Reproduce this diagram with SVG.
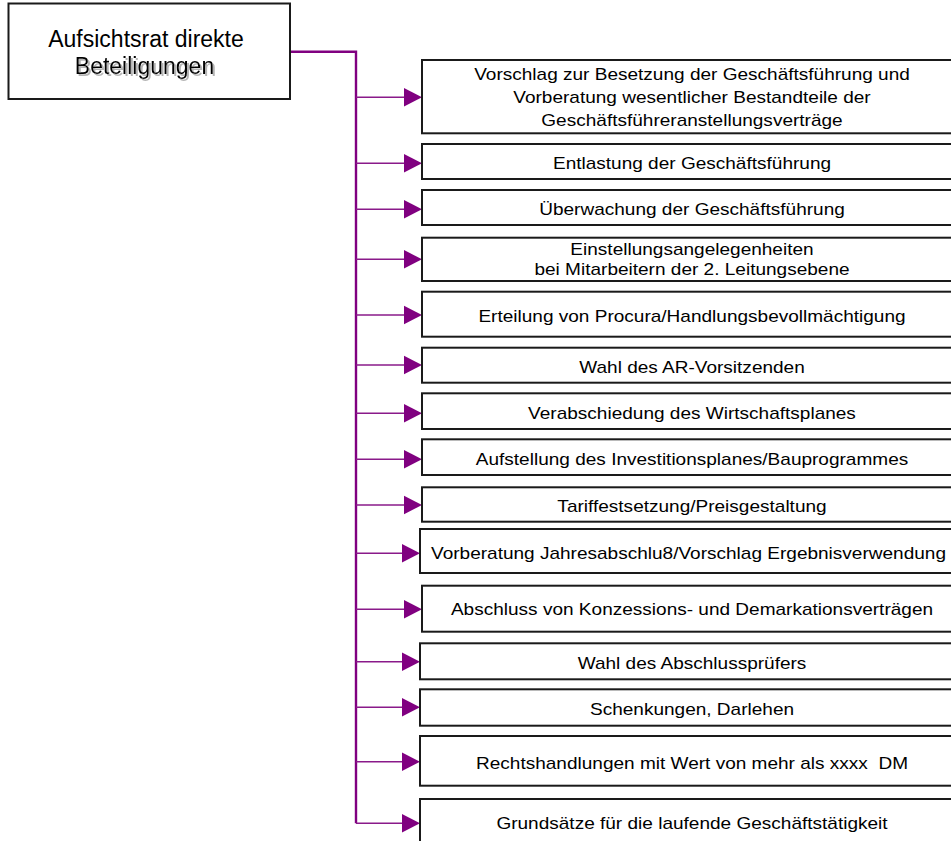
<svg xmlns="http://www.w3.org/2000/svg" width="951" height="841" viewBox="0 0 951 841">
  <style>
    .box { fill: #ffffff; stroke: #1a1a1a; stroke-width: 2; }
    .lbl { font-family: "Liberation Sans", Arial, sans-serif; font-size: 17px; fill: #000; text-anchor: middle; white-space: pre; }
    .head { font-family: "Liberation Sans", Arial, sans-serif; font-size: 23px; fill: #000; text-anchor: middle; }
    .trunk { fill: none; stroke: #800080; stroke-width: 2.4; }
    .branch { fill: none; stroke: #8a1a8a; stroke-width: 1.6; marker-end: url(#ah); }
  </style>
  <defs>
    <marker id="ah" markerUnits="userSpaceOnUse" markerWidth="18" markerHeight="19" refX="10" refY="9.25" orient="auto" overflow="visible">
      <path d="M0,0 L18,9.25 L0,18.5 Z" fill="#800080"/>
    </marker>
    <!-- soft grey offset copy behind the second title line -->
    <filter id="drop" x="-5%" y="-20%" width="115%" height="160%">
      <feOffset in="SourceAlpha" dx="2" dy="2" result="off"/>
      <feFlood flood-color="#b4b4b4"/>
      <feComposite in2="off" operator="in" result="shade"/>
      <feMerge>
        <feMergeNode in="shade"/>
        <feMergeNode in="SourceGraphic"/>
      </feMerge>
    </filter>
  </defs>
  <rect width="951" height="841" fill="#ffffff"/>

  <!-- connectors -->
  <g id="connectors">
    <polyline class="trunk" points="290,51.7 356,51.7 356,823.3"/>
    <line class="branch" x1="356" y1="97.3" x2="414" y2="97.3"/>
    <line class="branch" x1="356" y1="163.3" x2="414" y2="163.3"/>
    <line class="branch" x1="356" y1="209.3" x2="414" y2="209.3"/>
    <line class="branch" x1="356" y1="259.3" x2="414" y2="259.3"/>
    <line class="branch" x1="356" y1="315" x2="414" y2="315"/>
    <line class="branch" x1="356" y1="365" x2="414" y2="365"/>
    <line class="branch" x1="356" y1="413.3" x2="414" y2="413.3"/>
    <line class="branch" x1="356" y1="459.3" x2="414" y2="459.3"/>
    <line class="branch" x1="356" y1="505" x2="414" y2="505"/>
    <line class="branch" x1="356" y1="553.3" x2="412" y2="553.3"/>
    <line class="branch" x1="356" y1="609.3" x2="414" y2="609.3"/>
    <line class="branch" x1="356" y1="661.7" x2="412" y2="661.7"/>
    <line class="branch" x1="356" y1="707.3" x2="412" y2="707.3"/>
    <line class="branch" x1="356" y1="761.7" x2="412" y2="761.7"/>
    <line class="branch" x1="356" y1="823.3" x2="412" y2="823.3"/>
  </g>

  <!-- root node -->
  <g id="aufsichtsrat">
    <rect class="box" x="8.5" y="3.5" width="281.5" height="95.5"/>
    <text class="head" x="146" y="46.7">Aufsichtsrat direkte</text>
    <text class="head" x="144.5" y="73.5" filter="url(#drop)">Beteiligungen</text>
  </g>

  <!-- task nodes -->
  <g id="n01">
    <rect class="box" x="422" y="60" width="545" height="73.3"/>
    <text class="lbl" transform="translate(692 0) scale(1.12 1)" y="80.5">Vorschlag zur Besetzung der Geschäftsführung und</text>
    <text class="lbl" transform="translate(692 0) scale(1.12 1)" y="103.5">Vorberatung wesentlicher Bestandteile der</text>
    <text class="lbl" transform="translate(692 0) scale(1.12 1)" y="126.5">Geschäftsführeranstellungsverträge</text>
  </g>
  <g id="n02">
    <rect class="box" x="422" y="144" width="545" height="35"/>
    <text class="lbl" transform="translate(692 0) scale(1.12 1)" y="168.8">Entlastung der Geschäftsführung</text>
  </g>
  <g id="n03">
    <rect class="box" x="422" y="190" width="545" height="35"/>
    <text class="lbl" transform="translate(692 0) scale(1.12 1)" y="215">Überwachung der Geschäftsführung</text>
  </g>
  <g id="n04">
    <rect class="box" x="422" y="237.7" width="545" height="43.3"/>
    <text class="lbl" transform="translate(692 0) scale(1.12 1)" y="255">Einstellungsangelegenheiten</text>
    <text class="lbl" transform="translate(692 0) scale(1.12 1)" y="275.5">bei Mitarbeitern der 2. Leitungsebene</text>
  </g>
  <g id="n05">
    <rect class="box" x="422" y="291.7" width="545" height="45"/>
    <text class="lbl" transform="translate(692 0) scale(1.12 1)" y="321.8">Erteilung von Procura/Handlungsbevollmächtigung</text>
  </g>
  <g id="n06">
    <rect class="box" x="422" y="347.7" width="545" height="35"/>
    <text class="lbl" transform="translate(692 0) scale(1.12 1)" y="372.7">Wahl des AR-Vorsitzenden</text>
  </g>
  <g id="n07">
    <rect class="box" x="422" y="393.3" width="545" height="35.7"/>
    <text class="lbl" transform="translate(692 0) scale(1.12 1)" y="418.6">Verabschiedung des Wirtschaftsplanes</text>
  </g>
  <g id="n08">
    <rect class="box" x="422" y="439.3" width="545" height="35.7"/>
    <text class="lbl" transform="translate(692 0) scale(1.12 1)" y="465">Aufstellung des Investitionsplanes/Bauprogrammes</text>
  </g>
  <g id="n09">
    <rect class="box" x="422" y="487.3" width="545" height="34.4"/>
    <text class="lbl" transform="translate(692 0) scale(1.12 1)" y="511.8">Tariffestsetzung/Preisgestaltung</text>
  </g>
  <g id="n10">
    <rect class="box" x="420" y="529" width="547" height="44"/>
    <text class="lbl" transform="translate(688.5 0) scale(1.12 1)" y="558.8">Vorberatung Jahresabschlu8/Vorschlag Ergebnisverwendung</text>
  </g>
  <g id="n11">
    <rect class="box" x="422" y="585.7" width="545" height="46"/>
    <text class="lbl" transform="translate(692 0) scale(1.12 1)" y="615.5">Abschluss von Konzessions- und Demarkationsverträgen</text>
  </g>
  <g id="n12">
    <rect class="box" x="420" y="643.3" width="547" height="36"/>
    <text class="lbl" transform="translate(692 0) scale(1.12 1)" y="668.8">Wahl des Abschlussprüfers</text>
  </g>
  <g id="n13">
    <rect class="box" x="420" y="689.3" width="547" height="36.4"/>
    <text class="lbl" transform="translate(692 0) scale(1.12 1)" y="715.5">Schenkungen, Darlehen</text>
  </g>
  <g id="n14">
    <rect class="box" x="420" y="736" width="547" height="49.7"/>
    <text class="lbl" transform="translate(692 0) scale(1.12 1)" y="768.8" xml:space="preserve">Rechtshandlungen mit Wert von mehr als xxxx  DM</text>
  </g>
  <g id="n15">
    <rect class="box" x="420" y="799" width="547" height="60"/>
    <text class="lbl" transform="translate(692 0) scale(1.12 1)" y="829">Grundsätze für die laufende Geschäftstätigkeit</text>
  </g>
</svg>
